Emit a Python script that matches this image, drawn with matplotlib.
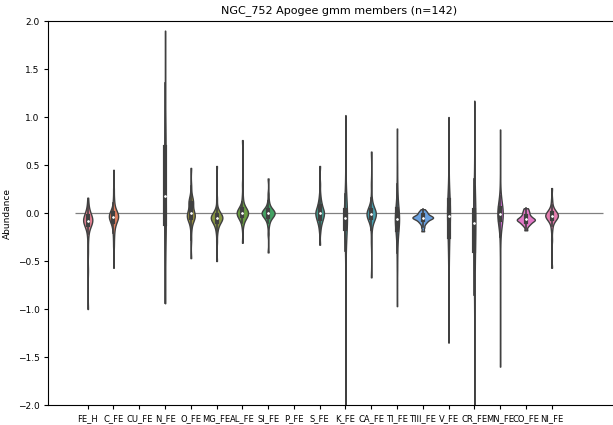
import numpy as np
import pandas as pd
import seaborn as sns
import matplotlib
matplotlib.use("Agg")
import matplotlib.pyplot as plt

# element labels on the x axis (CU_FE and P_FE have no members)
elements = ['FE_H', 'C_FE', 'CU_FE', 'N_FE', 'O_FE', 'MG_FE', 'AL_FE', 'SI_FE', 'P_FE', 'S_FE',
            'K_FE', 'CA_FE', 'TI_FE', 'TIII_FE', 'V_FE', 'CR_FE', 'MN_FE', 'CO_FE', 'NI_FE']

# abundance values (approximate)
fe_h = [0.16, 0.1, 0.06, 0.03, 0.01, 0.0, -0.01, -0.02, -0.03, -0.04, -0.05, -0.05, -0.06, -0.06,
        -0.07, -0.07, -0.08, -0.08, -0.08, -0.09, -0.09, -0.1, -0.1, -0.11, -0.12, -0.13, -0.14,
        -0.16, -0.18, -0.22, -0.28, -0.4, -0.6, -1.0]
c_fe = [0.45, 0.25, 0.16, 0.1, 0.07, 0.04, 0.02, 0.01, 0.0, 0.0, -0.01, -0.02, -0.02, -0.03,
        -0.03, -0.04, -0.04, -0.05, -0.05, -0.06, -0.07, -0.08, -0.09, -0.1, -0.12, -0.14, -0.17,
        -0.21, -0.27, -0.35, -0.57]
cu_fe = []
n_fe = [1.9, 1.35, 1.05, 0.9, 0.8, 0.72, 0.68, 0.6, 0.5, 0.4, 0.3, 0.2, 0.15, 0.1, 0.05, 0.0,
        -0.05, -0.1, -0.14, -0.2, -0.3, -0.4, -0.6, -0.94]
o_fe = [0.47, 0.28, 0.2, 0.16, 0.14, 0.13, 0.12, 0.11, 0.1, 0.08, 0.06, 0.04, 0.02, 0.01, 0.0,
        0.0, -0.01, -0.02, -0.03, -0.03, -0.04, -0.05, -0.05, -0.06, -0.07, -0.08, -0.1, -0.13,
        -0.18, -0.28, -0.47]
mg_fe = [0.49, 0.15, 0.06, 0.03, 0.01, 0.0, -0.01, -0.02, -0.02, -0.03, -0.03, -0.04, -0.04,
         -0.05, -0.05, -0.05, -0.06, -0.06, -0.07, -0.07, -0.08, -0.09, -0.1, -0.11, -0.12, -0.14,
         -0.17, -0.21, -0.3, -0.5]
al_fe = [0.76, 0.3, 0.18, 0.12, 0.08, 0.06, 0.05, 0.04, 0.03, 0.03, 0.02, 0.02, 0.01, 0.01, 0.0,
         0.0, 0.0, -0.01, -0.01, -0.02, -0.02, -0.03, -0.03, -0.04, -0.05, -0.06, -0.08, -0.1,
         -0.15, -0.31]
si_fe = [0.36, 0.2, 0.13, 0.09, 0.07, 0.05, 0.04, 0.03, 0.03, 0.02, 0.02, 0.01, 0.01, 0.0, 0.0,
         0.0, -0.01, -0.01, -0.02, -0.02, -0.03, -0.03, -0.04, -0.05, -0.06, -0.08, -0.1, -0.14,
         -0.22, -0.41]
p_fe = []
s_fe = [0.49, 0.3, 0.2, 0.15, 0.12, 0.1, 0.08, 0.07, 0.05, 0.04, 0.03, 0.02, 0.01, 0.01, 0.0,
        0.0, -0.01, -0.02, -0.03, -0.04, -0.05, -0.06, -0.07, -0.08, -0.1, -0.12, -0.15, -0.2,
        -0.33]
k_fe = [1.02, 0.6, 0.35, 0.2, 0.12, 0.08, 0.05, 0.03, 0.01, 0.0, -0.02, -0.03, -0.04, -0.05,
        -0.05, -0.06, -0.07, -0.08, -0.1, -0.12, -0.15, -0.2, -0.28, -0.4, -0.6, -1.0, -1.6, -2.6]
ca_fe = [0.64, 0.3, 0.16, 0.1, 0.07, 0.05, 0.04, 0.03, 0.02, 0.01, 0.01, 0.0, 0.0, -0.01, -0.01,
         -0.02, -0.02, -0.03, -0.03, -0.04, -0.05, -0.06, -0.07, -0.09, -0.12, -0.18, -0.3, -0.67]
ti_fe = [0.88, 0.5, 0.3, 0.18, 0.1, 0.05, 0.02, 0.0, -0.02, -0.04, -0.06, -0.07, -0.08, -0.1,
         -0.12, -0.15, -0.18, -0.22, -0.3, -0.42, -0.6, -0.97]
tiii_fe = [0.04, 0.02, 0.01, 0.0, -0.01, -0.02, -0.03, -0.03, -0.04, -0.04, -0.05, -0.05, -0.05,
           -0.06, -0.06, -0.07, -0.08, -0.09, -0.1, -0.12, -0.15, -0.19]
v_fe = [1.0, 0.6, 0.35, 0.2, 0.15, 0.14, 0.1, 0.05, 0.02, -0.01, -0.03, -0.05, -0.08, -0.12,
        -0.18, -0.25, -0.31, -0.4, -0.55, -0.8, -1.35]
cr_fe = [1.17, 0.35, 0.2, 0.1, 0.05, 0.02, 0.0, -0.03, -0.06, -0.09, -0.12, -0.18, -0.25, -0.32,
         -0.38, -0.45, -0.55, -0.7, -0.85, -3.0]
mn_fe = [0.87, 0.35, 0.18, 0.12, 0.09, 0.07, 0.06, 0.05, 0.03, 0.02, 0.01, 0.0, 0.0, -0.01,
         -0.02, -0.03, -0.03, -0.04, -0.05, -0.06, -0.07, -0.09, -0.12, -0.17, -0.25, -0.4, -0.7,
         -1.6]
co_fe = [0.05, 0.03, 0.01, 0.0, -0.02, -0.03, -0.04, -0.05, -0.06, -0.06, -0.07, -0.07, -0.08,
         -0.08, -0.09, -0.1, -0.11, -0.12, -0.14, -0.18]
ni_fe = [0.26, 0.14, 0.08, 0.05, 0.03, 0.02, 0.01, 0.0, 0.0, -0.01, -0.01, -0.02, -0.02, -0.03,
         -0.03, -0.03, -0.04, -0.04, -0.05, -0.05, -0.06, -0.07, -0.08, -0.1, -0.13, -0.18, -0.28,
         -0.57]

values = [fe_h, c_fe, cu_fe, n_fe, o_fe, mg_fe, al_fe, si_fe, p_fe, s_fe,
          k_fe, ca_fe, ti_fe, tiii_fe, v_fe, cr_fe, mn_fe, co_fe, ni_fe]

# long form table for seaborn
rows = []
for el, vals in zip(elements, values):
    for v in vals:
        rows.append((el, v))
df = pd.DataFrame(rows, columns=['element', 'abundance'])

palette = dict(zip(elements, sns.color_palette('husl', len(elements))))

fig = plt.figure(figsize=(6.13, 4.25), dpi=100)
ax = fig.add_axes([0.079, 0.047, 0.948, 0.9035])

sns.violinplot(data=df, x='element', y='abundance', hue='element', order=elements,
               hue_order=elements, palette=palette, legend=False, inner='box',
               linewidth=1, cut=0, common_norm=True, density_norm='area',
               bw_adjust=0.5, inner_kws=dict(box_width=3, whis_width=1.2, marker='.'),
               ax=ax)
ax.hlines(0, -0.5, 20, color='gray', linewidth=0.9, zorder=0)

ax.set_xlim(-1.525, 21.025)
ax.set_ylim(-2, 2)
ax.set_yticks(np.arange(-2, 2.01, 0.5))
ax.set_xlabel('')
ax.set_ylabel('Abundance', fontsize=6.5)
ax.set_title('NGC_752 Apogee gmm members (n=142)', fontsize=8)
ax.tick_params(axis='x', labelsize=6, length=3)
ax.tick_params(axis='y', labelsize=6.5, length=3)

fig.savefig('out.png', dpi=100)
